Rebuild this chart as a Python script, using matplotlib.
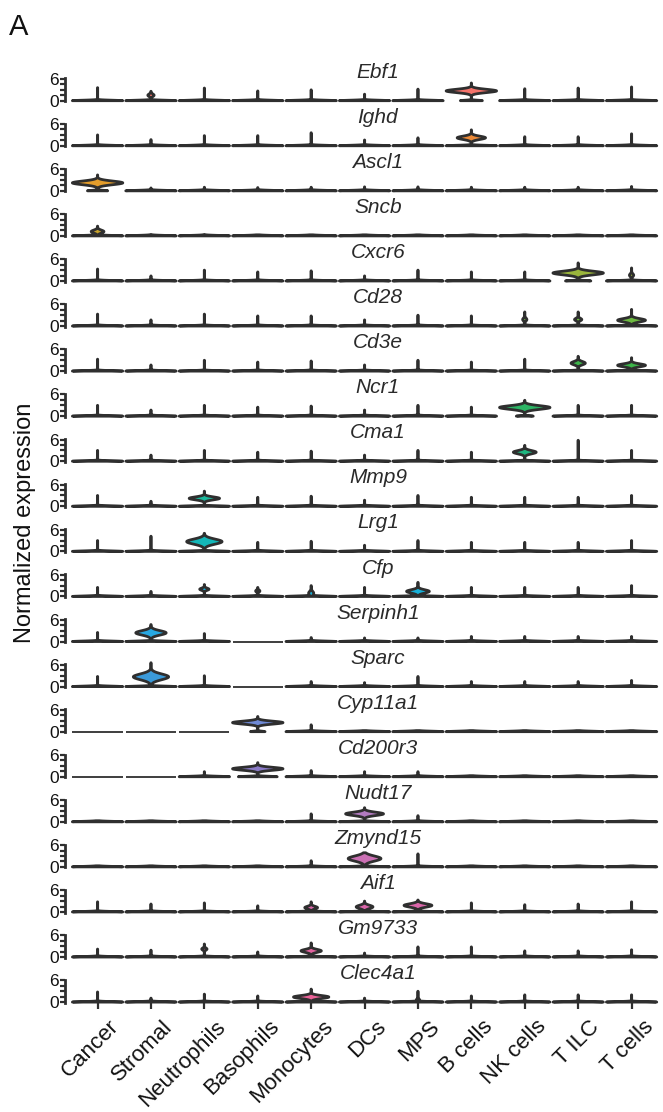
import numpy as np
import matplotlib.pyplot as plt
from matplotlib.transforms import ScaledTranslation

plt.rcParams['font.family'] = ['Liberation Sans', 'DejaVu Sans']

genes = ['Ebf1', 'Ighd', 'Ascl1', 'Sncb', 'Cxcr6', 'Cd28', 'Cd3e', 'Ncr1', 'Cma1',
         'Mmp9', 'Lrg1', 'Cfp', 'Serpinh1', 'Sparc', 'Cyp11a1', 'Cd200r3', 'Nudt17',
         'Zmynd15', 'Aif1', 'Gm9733', 'Clec4a1']
cells = ['Cancer', 'Stromal', 'Neutrophils', 'Basophils', 'Monocytes', 'DCs', 'MPS',
         'B cells', 'NK cells', 'T ILC', 'T cells']
colors = ['#f4736b', '#ec8a38', '#e39d2c', '#c5a12c', '#9ab53c', '#6dba40', '#3db54a',
          '#2db565', '#1eb680', '#1bb89c', '#14b7b8', '#17b0d8', '#28a8e2', '#3b9ad9',
          '#6f8ad6', '#8b7bc8', '#b27bc0', '#cb70b4', '#db66aa', '#e463a0', '#eb6398']

# highest value reached in each violin (0 = every cell is zero)
tops = [
    [3.6, 2.6, 3.5, 2.7, 3.0, 1.8, 3.2, 4.9, 3.3, 3.5, 3.8],
    [3.0, 1.7, 2.8, 2.8, 3.6, 1.6, 2.2, 4.4, 2.5, 2.5, 3.3],
    [4.4, 0.8, 1.0, 0.9, 1.0, 1.1, 1.1, 1.0, 1.0, 1.0, 1.2],
    [2.7, 0.4, 0.4, 0.3, 0.3, 0.3, 0.3, 0.3, 0.3, 0.3, 0.3],
    [3.3, 1.4, 3.0, 2.5, 2.8, 1.4, 3.0, 2.5, 2.5, 5.0, 3.6],
    [3.3, 1.7, 3.3, 2.8, 2.8, 1.7, 3.0, 2.8, 3.9, 3.9, 4.6],
    [3.3, 1.7, 3.0, 2.5, 2.8, 1.7, 3.0, 2.5, 3.3, 4.1, 3.7],
    [3.0, 1.7, 3.0, 2.5, 2.8, 1.7, 3.0, 2.5, 4.4, 3.0, 3.0],
    [3.0, 1.7, 3.0, 2.5, 2.8, 1.7, 3.0, 2.5, 4.4, 5.8, 3.0],
    [3.0, 1.4, 4.2, 2.5, 2.8, 1.7, 3.0, 2.5, 2.5, 2.5, 3.0],
    [3.0, 4.2, 5.0, 2.5, 2.8, 1.7, 3.0, 2.5, 2.5, 2.5, 3.0],
    [2.5, 1.4, 3.3, 2.5, 3.0, 2.5, 3.9, 2.5, 2.5, 2.5, 3.0],
    [2.5, 4.7, 2.2, 0.0, 1.1, 1.0, 1.0, 1.4, 1.4, 1.4, 1.4],
    [2.8, 6.6, 3.0, 0.0, 1.4, 1.1, 2.8, 1.4, 1.4, 1.4, 1.7],
    [0.0, 0.0, 0.0, 4.2, 1.9, 0.3, 0.3, 0.3, 0.3, 0.3, 0.3],
    [0.0, 0.0, 1.4, 3.9, 1.7, 1.4, 1.4, 0.3, 0.3, 0.3, 0.3],
    [0.3, 0.3, 0.3, 0.3, 2.2, 3.9, 1.7, 0.3, 0.3, 0.3, 0.3],
    [0.3, 0.3, 0.3, 0.3, 1.7, 3.9, 3.6, 0.3, 0.3, 0.3, 0.3],
    [2.8, 2.2, 2.5, 1.7, 2.8, 3.0, 3.3, 2.5, 2.0, 2.2, 2.8],
    [2.2, 1.9, 3.6, 1.4, 3.9, 1.1, 2.8, 2.8, 1.7, 1.7, 2.0],
    [2.8, 1.1, 2.2, 1.7, 3.6, 1.1, 3.0, 1.7, 2.0, 2.0, 2.0],
]

# expressing cells: gene, cell type, centre, spread, peak relative to the zero peak
bumps = [
    ('Ebf1', 'Stromal', 1.5, 0.35, 0.12),
    ('Ebf1', 'B cells', 2.7, 0.45, 2.3),
    ('Ighd', 'B cells', 2.2, 0.45, 0.56),
    ('Ascl1', 'Cancer', 2.2, 0.5, 2.5),
    ('Sncb', 'Cancer', 1.2, 0.4, 0.25),
    ('Cxcr6', 'T ILC', 2.2, 0.5, 2.0),
    ('Cxcr6', 'T cells', 1.6, 0.4, 0.08),
    ('Cd28', 'NK cells', 1.8, 0.4, 0.08),
    ('Cd28', 'T ILC', 1.8, 0.35, 0.14),
    ('Cd28', 'T cells', 1.6, 0.45, 0.55),
    ('Cd3e', 'T ILC', 2.2, 0.45, 0.28),
    ('Cd3e', 'T cells', 1.6, 0.4, 0.55),
    ('Ncr1', 'NK cells', 2.4, 0.5, 3.0),
    ('Cma1', 'NK cells', 2.5, 0.45, 0.45),
    ('Mmp9', 'Neutrophils', 2.2, 0.4, 0.6),
    ('Lrg1', 'Neutrophils', 2.7, 0.7, 0.7),
    ('Cfp', 'Neutrophils', 2.0, 0.3, 0.18),
    ('Cfp', 'Basophils', 1.5, 0.3, 0.08),
    ('Cfp', 'Monocytes', 0.9, 0.5, 0.1),
    ('Cfp', 'MPS', 1.4, 0.45, 0.45),
    ('Serpinh1', 'Stromal', 2.4, 0.6, 0.6),
    ('Sparc', 'Stromal', 2.7, 0.8, 0.7),
    ('Cyp11a1', 'Basophils', 2.5, 0.4, 3.5),
    ('Cd200r3', 'Basophils', 2.2, 0.4, 1.3),
    ('Nudt17', 'DCs', 2.2, 0.45, 0.75),
    ('Zmynd15', 'DCs', 2.3, 0.7, 0.65),
    ('Aif1', 'Monocytes', 1.2, 0.35, 0.25),
    ('Aif1', 'DCs', 1.4, 0.45, 0.33),
    ('Aif1', 'MPS', 1.8, 0.45, 0.55),
    ('Gm9733', 'Neutrophils', 2.2, 0.3, 0.1),
    ('Gm9733', 'Monocytes', 1.7, 0.4, 0.4),
    ('Clec4a1', 'Monocytes', 1.4, 0.4, 0.7),
    ('Clec4a1', 'MPS', 0.6, 0.3, 0.06),
]

EDGE = '#2f2f2f'
HALF = 0.47
ZERO_BW = 0.13

W, H = 663, 1112
fig = plt.figure(figsize=(W / 100, H / 100), dpi=100)

base0, pitch, per_unit = 100.7, 45.07, 3.617
ylo, yhi = -0.5, 7.0
xlo, xhi = -0.61, 10.57
left_px, right_px = 65, 662


def draw_violin(ax, pos, top, parts, color):
    if top <= 0:
        ax.plot([pos - HALF, pos + HALF], [0, 0], color=EDGE, lw=1.3,
                solid_capstyle='butt', clip_on=False)
        return
    y = np.linspace(0, top, 400)
    dens = np.exp(-0.5 * (y / ZERO_BW) ** 2)
    for centre, spread, amp in parts:
        dens = dens + amp * np.exp(-0.5 * ((y - centre) / spread) ** 2)
    hw = HALF * dens / dens.max() + 0.002
    xs = np.r_[pos - hw, (pos + hw)[::-1]]
    ys = np.r_[y, y[::-1]]
    ax.fill(xs, ys, facecolor=color, edgecolor=EDGE, lw=2.0,
            joinstyle='round', clip_on=False)


for k, gene in enumerate(genes):
    yb = base0 + pitch * k
    bottom = 1 - (yb - ylo * per_unit) / H
    height = (yhi - ylo) * per_unit / H
    ax = fig.add_axes([left_px / W, bottom, (right_px - left_px) / W, height])
    ax.set_xlim(xlo, xhi)
    ax.set_ylim(ylo, yhi)
    for side in ['top', 'right', 'bottom']:
        ax.spines[side].set_visible(False)
    ax.spines['left'].set_bounds(-0.15, 6.15)
    ax.spines['left'].set_linewidth(2.0)
    ax.spines['left'].set_color(EDGE)
    ax.set_yticks([0, 1.5, 3, 4.5, 6])
    ax.set_yticklabels(['0', '', '', '', '6'])
    ax.tick_params(axis='y', length=3.5, width=1.6, color=EDGE, pad=1,
                   labelsize=12.5, labelcolor='#111111')
    ax.patch.set_visible(False)

    for j, cell in enumerate(cells):
        parts = [(c, s, a) for g, cl, c, s, a in bumps if g == gene and cl == cell]
        draw_violin(ax, j, tops[k][j], parts, colors[k])

    ax.text(5.25, 6.35, gene, ha='center', va='baseline', style='italic',
            fontsize=15, color='#2a2a2a')

    if k == len(genes) - 1:
        ax.spines['bottom'].set_position(('data', 0))
        ax.set_xticks(range(len(cells)))
        ax.set_xticklabels(cells, rotation=45, ha='right', va='top',
                           rotation_mode='anchor', fontsize=16, color='#111111')
        ax.tick_params(axis='x', length=5, width=1.6, color=EDGE, pad=3)
        shift = ScaledTranslation(0.11, -0.03, fig.dpi_scale_trans)
        for lab in ax.get_xticklabels():
            lab.set_transform(lab.get_transform() + shift)
    else:
        ax.set_xticks([])

fig.text(25 / W, 1 - 523 / H, 'Normalized expression', rotation=90,
         ha='center', va='center', fontsize=17, color='#111111')
fig.text(9 / W, 1 - 35 / H, 'A', fontsize=21, color='#111111', va='baseline')

fig.savefig('out.png', dpi=100)
